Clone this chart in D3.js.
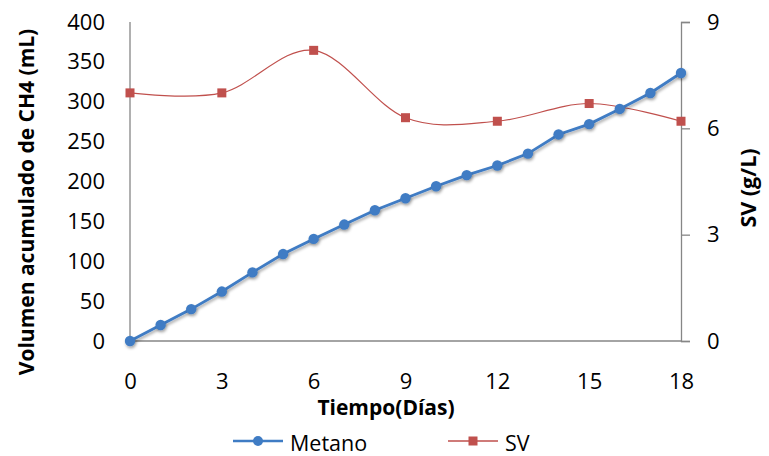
<!DOCTYPE html>
<html>
<head>
<meta charset="utf-8">
<script src="https://cdn.jsdelivr.net/npm/d3@7"></script>
<style>
  html, body { margin: 0; padding: 0; background: #fff; }
  svg { display: block; font-family: "Open Sans", Lato, sans-serif; }
</style>
</head>
<body>
<svg id="chart" width="769" height="456"></svg>
<script>
// Cumulative methane volume (mL) per day
const metanoDays = [0,1,2,3,4,5,6,7,8,9,10,11,12,13,14,15,16,17,18];
const metanoValues = [0,20,40,62,86,109,128,146,164,179,194,208,220,235,259,272,291,311,336];

// Volatile solids (g/L) sampled every 3 days
const svDays = [0,3,6,9,12,15,18];
const svValues = [7.0,7.0,8.2,6.3,6.2,6.7,6.2];

const xTicks = [0,3,6,9,12,15,18];
const leftTicks = [0,50,100,150,200,250,300,350,400];
const rightTicks = [0,3,6,9];

const seriesNames = ["Metano", "SV"];
const blue = "#3f7cc4";
const red = "#c0504d";
const axisGray = "#868686";
const fontFamily = "'Open Sans', Lato, sans-serif";
const tickFont = 22;

const svg = d3.select("#chart");
const plot = { left: 130, right: 681, top: 22, bottom: 341 };

const x = d3.scaleLinear().domain([0, 18]).range([plot.left, plot.right]);
const yL = d3.scaleLinear().domain([0, 400]).range([plot.bottom, plot.top]);
const yR = d3.scaleLinear().domain([0, 9]).range([plot.bottom, plot.top]);

// drop shadow for the methane markers
const defs = svg.append("defs");
const f = defs.append("filter").attr("id", "shadow").attr("x", "-50%").attr("y", "-50%").attr("width", "200%").attr("height", "200%");
f.append("feDropShadow").attr("dx", 1).attr("dy", 2).attr("stdDeviation", 1.4).attr("flood-color", "#000").attr("flood-opacity", 0.35);

// bottom axis
const xAxis = svg.append("g").attr("transform", `translate(0,${plot.bottom})`)
  .call(d3.axisBottom(x).tickValues(xTicks).tickSize(0).tickPadding(32));
// left axis
const lAxis = svg.append("g").attr("transform", `translate(${plot.left},0)`)
  .call(d3.axisLeft(yL).tickValues(leftTicks).tickSize(0).tickPadding(25));
// right axis
const rAxis = svg.append("g").attr("transform", `translate(${plot.right},0)`)
  .call(d3.axisRight(yR).tickValues(rightTicks).tickSize(9).tickPadding(17));

[xAxis, lAxis, rAxis].forEach(g => {
  g.select(".domain").attr("stroke", axisGray).attr("stroke-width", 1.3);
  g.selectAll(".tick line").attr("stroke", axisGray).attr("stroke-width", 1.3);
  g.selectAll(".tick text").attr("fill", "#000").attr("font-size", tickFont)
    .attr("font-family", fontFamily);
});
lAxis.select(".domain").attr("d", `M0,${plot.top}V${plot.bottom}`);
xAxis.select(".domain").attr("d", `M${plot.left},0H${plot.right}`);

// SV series: smoothed line with square markers
const svData = svDays.map((d, i) => [d, svValues[i]]);
svg.append("path").datum(svData)
  .attr("fill", "none").attr("stroke", red).attr("stroke-width", 1.2)
  .attr("d", d3.line().x(d => x(d[0])).y(d => yR(d[1])).curve(d3.curveCardinal.tension(0)));
svg.append("g").selectAll("rect").data(svData).join("rect")
  .attr("x", d => x(d[0]) - 4.5).attr("y", d => yR(d[1]) - 4.5)
  .attr("width", 9).attr("height", 9).attr("fill", red);

// Methane series: straight line with circle markers
const mData = metanoDays.map((d, i) => [d, metanoValues[i]]);
svg.append("path").datum(mData)
  .attr("fill", "none").attr("stroke", blue).attr("stroke-width", 2.8)
  .attr("filter", "url(#shadow)")
  .attr("d", d3.line().x(d => x(d[0])).y(d => yL(d[1])));
svg.append("g").attr("filter", "url(#shadow)").selectAll("circle").data(mData).join("circle")
  .attr("cx", d => x(d[0])).attr("cy", d => yL(d[1])).attr("r", 5.2).attr("fill", blue);

// axis titles
svg.append("text").attr("transform", "translate(26,202) rotate(-90)")
  .attr("text-anchor", "middle").attr("dominant-baseline", "central")
  .attr("font-weight", "bold").attr("font-size", 21).text("Volumen acumulado de CH4 (mL)");
svg.append("text").attr("transform", "translate(747,188) rotate(-90)")
  .attr("text-anchor", "middle").attr("dominant-baseline", "central")
  .attr("font-weight", "bold").attr("font-size", 21.5).text("SV (g/L)");
svg.append("text").attr("x", 386).attr("y", 407)
  .attr("text-anchor", "middle").attr("dominant-baseline", "central")
  .attr("font-weight", "bold").attr("font-size", 21).text("Tiempo(Días)");

// legend
const legend = svg.append("g");
const legendItems = [
  { name: seriesNames[0], color: blue, x0: 233, shape: "circle", w: 2.5 },
  { name: seriesNames[1], color: red, x0: 448, shape: "rect", w: 2 }
];
const ly = 441;
legendItems.forEach(it => {
  legend.append("line").attr("x1", it.x0).attr("x2", it.x0 + 50).attr("y1", ly).attr("y2", ly)
    .attr("stroke", it.color).attr("stroke-width", it.w).attr("opacity", it.shape === "rect" ? 0.75 : 1);
  if (it.shape === "circle") {
    legend.append("circle").attr("cx", it.x0 + 25).attr("cy", ly).attr("r", 5).attr("fill", it.color);
  } else {
    legend.append("rect").attr("x", it.x0 + 20.5).attr("y", ly - 4.5).attr("width", 9).attr("height", 9).attr("fill", it.color);
  }
  legend.append("text").attr("x", it.x0 + 57).attr("y", ly + 1).attr("dominant-baseline", "central")
    .attr("font-size", 21.5).text(it.name);
});
</script>
</body>
</html>
